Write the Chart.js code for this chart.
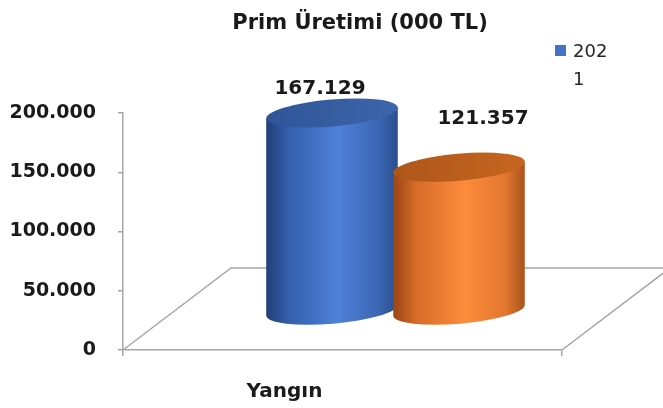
<!DOCTYPE html>
<html>
<head>
<meta charset="utf-8">
<script src="https://cdn.jsdelivr.net/npm/chart.js@4.4.1/dist/chart.umd.min.js"></script>
<style>
  html, body { margin: 0; padding: 0; background: #fff; }
</style>
</head>
<body>
<canvas id="myChart" width="663" height="408"></canvas>
<script>
// data
const categories = ['Yangın'];
const seriesNames = ['2021', '2022'];
const values2021 = [167129];
const values2022 = [121357];
const yTicks = [0, 50000, 100000, 150000, 200000];
const chartTitle = 'Prim Üretimi (000 TL)';

// styling
const FONT = 'DejaVu Sans';
const depth = { x: 108, y: -82 };      // floor depth vector
const barShift = { x: 53, y: -39 };    // bars sit in the middle of the floor
const labelShift = [[-12, -19], [24, -43]];
const palette = [
  {
    key: '#4472c4',
    body: [[0, '#213f77'], [0.18, '#3560ad'], [0.55, '#4e81d9'], [0.85, '#3b66b3'], [1, '#2a4e8e']],
    top: [[0, '#2f5597'], [1, '#3d65aa']]
  },
  {
    key: '#ed7d31',
    body: [[0, '#984514'], [0.18, '#d86c28'], [0.55, '#fd8c3c'], [0.85, '#e3772f'], [1, '#a9531c']],
    top: [[0, '#ae561b'], [1, '#c6651f']]
  }
];

const fmt = v => String(v).replace(/\B(?=(\d{3})+(?!\d))/g, '.');

function drawCylinder(ctx, cx, yTop, yBase, rx, ry, rot, colors) {
  const ox = rx * Math.cos(rot), oy = rx * Math.sin(rot);
  const g = ctx.createLinearGradient(cx - rx, 0, cx + rx, 0);
  colors.body.forEach(([s, c]) => g.addColorStop(s, c));
  ctx.beginPath();
  ctx.moveTo(cx - ox, yTop - oy);
  ctx.lineTo(cx - ox, yBase - oy);
  ctx.ellipse(cx, yBase, rx, ry, rot, Math.PI, 0, true);
  ctx.lineTo(cx + ox, yTop + oy);
  ctx.closePath();
  ctx.fillStyle = g;
  ctx.fill();

  const t = ctx.createLinearGradient(cx - rx, 0, cx + rx, 0);
  colors.top.forEach(([s, c]) => t.addColorStop(s, c));
  ctx.beginPath();
  ctx.ellipse(cx, yTop, rx, ry, rot, 0, Math.PI * 2);
  ctx.fillStyle = t;
  ctx.fill();
}

const cylinderPlugin = {
  id: 'cylinder3d',
  beforeDatasetsDraw(chart) {
    const { ctx, chartArea: ca } = chart;
    ctx.save();
    ctx.strokeStyle = '#a6a6a6';
    ctx.lineWidth = 1.5;
    ctx.beginPath();
    ctx.moveTo(ca.left, ca.bottom);
    ctx.lineTo(ca.left + depth.x, ca.bottom + depth.y);
    ctx.lineTo(ca.right + depth.x, ca.bottom + depth.y);
    ctx.moveTo(ca.right, ca.bottom);
    ctx.lineTo(ca.right + depth.x, ca.bottom + depth.y);
    ctx.stroke();
    ctx.restore();
  },
  afterDatasetsDraw(chart) {
    const ctx = chart.ctx;
    ctx.save();
    chart.data.datasets.forEach((ds, i) => {
      chart.getDatasetMeta(i).data.forEach(el => {
        const rx = el.width / 2 + 2.5;
        drawCylinder(ctx, el.x + barShift.x, el.y + barShift.y, el.base + barShift.y, rx, 13.5, -0.085, palette[i]);
      });
    });
    ctx.font = 'bold 20px "' + FONT + '"';
    ctx.fillStyle = '#1a1a1a';
    ctx.textAlign = 'center';
    ctx.textBaseline = 'alphabetic';
    chart.data.datasets.forEach((ds, i) => {
      chart.getDatasetMeta(i).data.forEach((el, j) => {
        ctx.fillText(fmt(ds.data[j]), el.x + barShift.x + labelShift[i][0], el.y + barShift.y + labelShift[i][1]);
      });
    });
    ctx.restore();
  },
  afterDraw(chart) {
    const ctx = chart.ctx;
    ctx.save();
    // title
    ctx.font = 'bold 21px "' + FONT + '"';
    ctx.fillStyle = '#1a1a1a';
    ctx.textAlign = 'center';
    ctx.fillText(chartTitle, 360, 29);
    // legend (only the first entry fits, and it wraps)
    ctx.fillStyle = palette[0].key;
    ctx.fillRect(555, 45, 11, 11);
    ctx.font = '18px "' + FONT + '"';
    ctx.fillStyle = '#262626';
    ctx.textAlign = 'left';
    const maxW = 40;
    let line = '', lines = [];
    for (const ch of seriesNames[0]) {
      if (ctx.measureText(line + ch).width > maxW) { lines.push(line); line = ch; }
      else line += ch;
    }
    lines.push(line);
    lines.forEach((l, k) => ctx.fillText(l, 573, 57 + k * 28));
    ctx.restore();
  }
};

const axisFont = { family: FONT, weight: 'bold', size: 19 };

new Chart(document.getElementById('myChart'), {
  type: 'bar',
  data: {
    labels: categories,
    datasets: [
      { label: seriesNames[0], data: values2021 },
      { label: seriesNames[1], data: values2022 }
    ].map(d => Object.assign(d, {
      backgroundColor: 'rgba(0,0,0,0)',
      borderWidth: 0,
      categoryPercentage: 0.5786,
      barPercentage: 1
    }))
  },
  options: {
    responsive: false,
    animation: false,
    devicePixelRatio: 1,
    layout: { padding: { top: 113, right: 101, left: 0, bottom: 0 } },
    plugins: {
      legend: { display: false },
      title: { display: false },
      tooltip: { enabled: false }
    },
    scales: {
      x: {
        grid: { drawOnChartArea: false, drawTicks: true, tickLength: 6, color: '#a6a6a6', lineWidth: 1.5 },
        border: { color: '#a6a6a6', width: 1.5 },
        ticks: { font: { family: FONT, weight: 'bold', size: 20 }, color: '#1a1a1a', labelOffset: -58, padding: 24 },
        afterFit: s => { s.height = 58; }
      },
      y: {
        min: 0,
        max: 200000,
        afterBuildTicks: s => { s.ticks = yTicks.map(v => ({ value: v })); },
        grid: { drawOnChartArea: false, drawTicks: true, tickLength: 5, color: '#a6a6a6', lineWidth: 1.5 },
        border: { color: '#a6a6a6', width: 1.5 },
        ticks: { font: axisFont, color: '#1a1a1a', padding: 22, callback: v => fmt(v) },
        afterFit: s => { s.width = 123; }
      }
    }
  },
  plugins: [cylinderPlugin]
});
</script>
</body>
</html>
